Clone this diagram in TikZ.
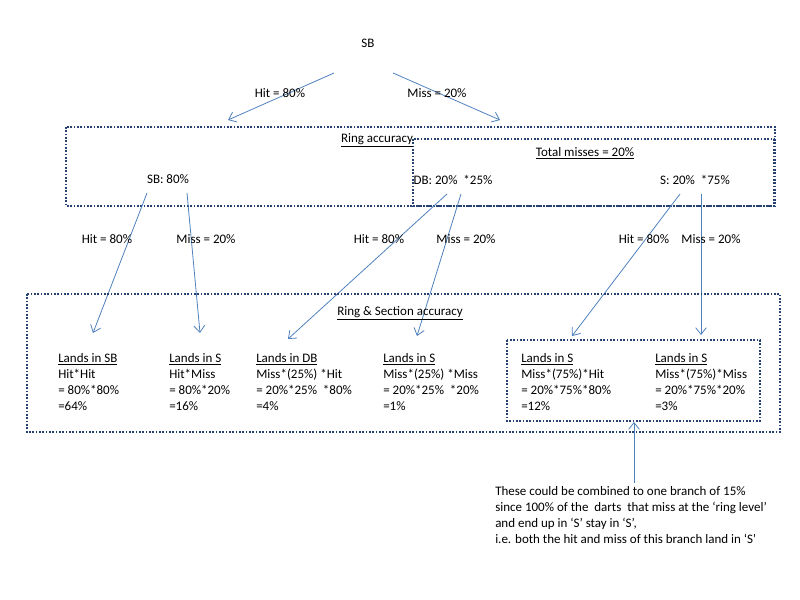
\documentclass[tikz,border=0pt]{standalone}
\usepackage{fontspec}
\setmainfont{Carlito}
\usetikzlibrary{arrows.meta}
\definecolor{boxblue}{RGB}{38,64,115}
\definecolor{arrblue}{RGB}{79,129,189}
\tikzset{
  ringbox/.style={draw=boxblue, line width=1.7pt, dash pattern=on 1.3pt off 1.2pt},
  branch/.style={draw=arrblue, line width=0.6pt, -{Straight Barb[length=5pt,width=8pt]}},
  lbl/.style={inner sep=0pt, font=\fontsize{9.75}{12}\selectfont},
  result/.style={lbl, align=left, anchor=north west},
}

\begin{document}
\begin{tikzpicture}[x=0.75pt,y=-0.75pt]
\useasboundingbox (0,0) rectangle (800,600);

% first throw
\node[lbl] (sbTop) at (368,43) {SB};
\coordinate (topL) at (334,73);
\coordinate (topR) at (393,73);
\coordinate (ringL) at (228,120);
\coordinate (ringR) at (500,120);
\draw[branch] (topL) -- (ringL);
\draw[branch] (topR) -- (ringR);
\node[lbl] (hitTop) at (280,93) {Hit = 80\%};
\node[lbl] (missTop) at (437,93) {Miss = 20\%};

% ring level
\draw[ringbox] (66,127) rectangle (775,206);
\draw[ringbox] (413,139) rectangle (774,206);
\node[lbl] (ringTitle) at (377,140) {\underline{Ring accuracy}};
\node[lbl] (missTitle) at (585,153) {\underline{Total misses = 20\%}};
\node[lbl] (sbRing) at (168,179) {SB: 80\%};
\node[lbl] (dbRing) at (453,180) {DB: 20\%\ \ *25\%};
\node[lbl] (sRing) at (695,180) {S: 20\%\ \ *75\%};

% branches to section level
\coordinate (sbA) at (147,193);
\coordinate (sbB) at (187,193);
\coordinate (dbA) at (447,194);
\coordinate (dbB) at (461,194);
\coordinate (sA) at (680,194);
\coordinate (sB) at (701,194);
\coordinate (endSB) at (93,333);
\coordinate (endS1) at (200,333);
\coordinate (endDB) at (288,339);
\coordinate (endS2) at (417,336);
\coordinate (endS3) at (572,336);
\coordinate (endS4) at (701,335);
\draw[branch] (sbA) -- (endSB);
\draw[branch] (sbB) -- (endS1);
\draw[branch] (dbA) -- (endDB);
\draw[branch] (dbB) -- (endS2);
\draw[branch] (sA) -- (endS3);
\draw[branch] (sB) -- (endS4);
\node[lbl] (hitSB) at (107,239) {Hit = 80\%};
\node[lbl] (missSB) at (206,239) {Miss = 20\%};
\node[lbl] (hitDB) at (379,239) {Hit = 80\%};
\node[lbl] (missDB) at (466,239) {Miss = 20\%};
\node[lbl] (hitS) at (644,239) {Hit = 80\%};
\node[lbl] (missS) at (711,239) {Miss = 20\%};

% ring & section level
\draw[ringbox] (27,294) rectangle (780,432);
\draw[ringbox] (507,340) rectangle (760,421);
\node[lbl] (sectTitle) at (400,313) {\underline{Ring \& Section accuracy}};
\node[result] (resSB) at (58,353) {\underline{Lands in SB}\\Hit*Hit\\= 80\%*80\%\\=64\%};
\node[result] (resS1) at (169,353) {\underline{Lands in S}\\Hit*Miss\\= 80\%*20\%\\=16\%};
\node[result] (resDB) at (256,353) {\underline{Lands in DB}\\Miss*(25\%) *Hit\\= 20\%*25\%\ \ *80\%\\=4\%};
\node[result] (resS2) at (383,353) {\underline{Lands in S}\\Miss*(25\%) *Miss\\= 20\%*25\%\ \ *20\%\\=1\%};
\node[result] (resS3) at (521,353) {\underline{Lands in S}\\Miss*(75\%)*Hit\\= 20\%*75\%*80\%\\=12\%};
\node[result] (resS4) at (655,353) {\underline{Lands in S}\\Miss*(75\%)*Miss\\= 20\%*75\%*20\%\\=3\%};

% note
\coordinate (noteTop) at (634,483);
\coordinate (boxBot) at (634,422);
\draw[branch] (noteTop) -- (boxBot);
\node[result] (note) at (495,486) {These could be combined to one branch of 15\%\\since 100\% of the\ \ darts\ \ that miss at the ‘ring level’\\and end up in ‘S’ stay in ‘S’,\\i.e. both the hit and miss of this branch land in ‘S’};
\end{tikzpicture}
\end{document}
